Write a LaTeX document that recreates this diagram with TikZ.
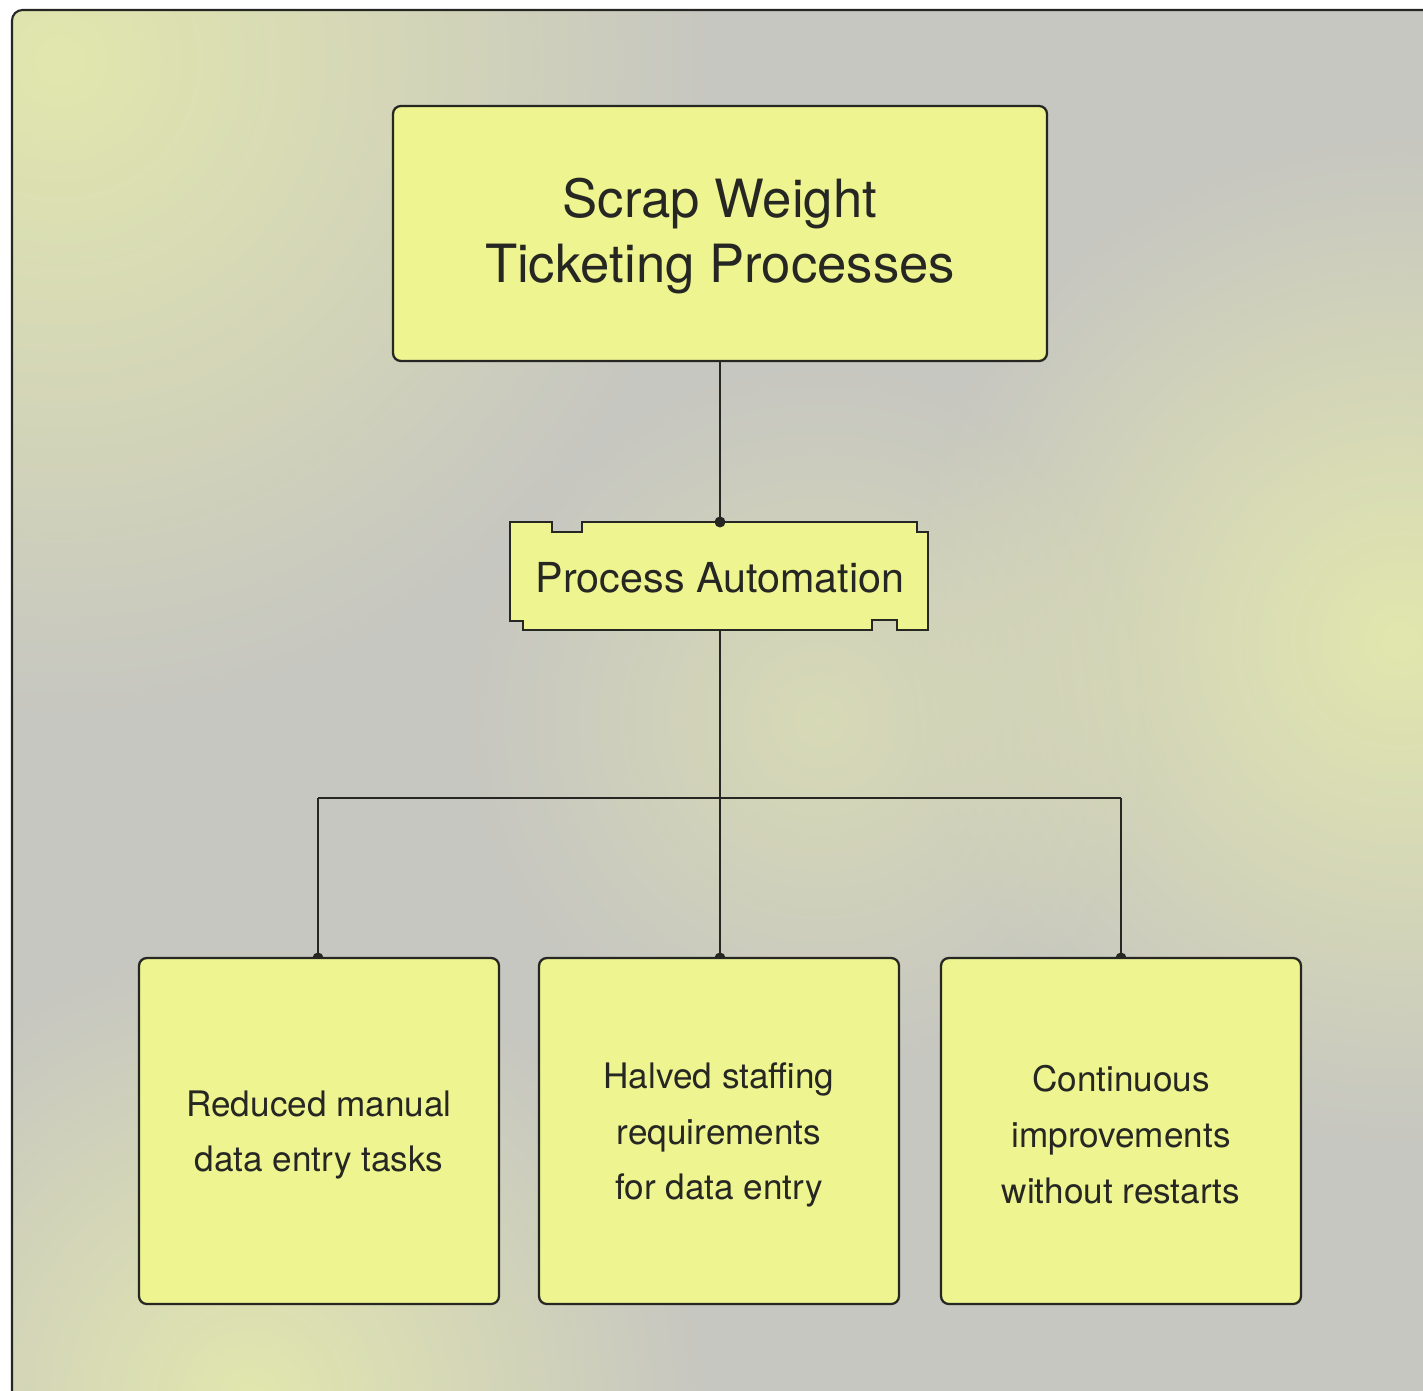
\documentclass[tikz,border=0pt]{standalone}
\usepackage{fontspec}
\setmainfont{TeX Gyre Heros}
\usetikzlibrary{fadings}
\definecolor{bggray}{HTML}{C7C7C1}
\definecolor{bgyel}{HTML}{E2E7AE}
\definecolor{boxfill}{HTML}{EEF48F}
\definecolor{ink}{HTML}{262622}
\tikzfading[name=softblob, inner color=transparent!0, outer color=transparent!100]
\tikzset{
  card/.style={draw=ink, line width=1.3pt, fill=boxfill, rounded corners=4.5pt},
  wire/.style={draw=ink, line width=1.1pt},
  joint/.style={fill=ink},
  ttl/.style={font=\fontsize{30}{37}\selectfont, text=ink, align=center},
  lbl/.style={font=\fontsize{20}{31.8}\selectfont, text=ink, align=center},
}
\begin{document}
\begin{tikzpicture}[x=0.02cm,y=-0.02cm]
\useasboundingbox (0,0) rectangle (1423,1391);
\fill[white] (0,0) rectangle (1423,1391);
% background frame
\begin{scope}
\clip[rounded corners=6pt] (12,10) rectangle (1450,1420);
\fill[bggray] (0,0) rectangle (1423,1391);
\fill[bgyel, path fading=softblob] (60,60) circle (13cm);
\fill[bgyel, path fading=softblob] (1400,640) circle (10cm);
\fill[bgyel, path fading=softblob] (250,1400) circle (9cm);
\fill[bgyel, path fading=softblob, fill opacity=0.6] (820,720) circle (7cm);
\end{scope}
\draw[ink, line width=1.2pt, rounded corners=6pt] (12,1450) -- (12,10) -- (1450,10);
% top card
\node[card, minimum width=654*0.02cm, minimum height=255*0.02cm] (top) at (720,233.5) {};
\node[ttl] (toptext) at (720,236) {Scrap Weight\\Ticketing Processes};
% process automation shape
\coordinate (patop) at (720,522);
\coordinate (pabot) at (720,630);
\draw[ink, line width=1.3pt, fill=boxfill] (510,522) -- (552,522) -- (552,532) -- (582,532) -- (582,522) -- (917,522) -- (917,532) -- (928,532) -- (928,630) -- (897,630) -- (897,620) -- (872,620) -- (872,630) -- (523,630) -- (523,621) -- (510,621) -- cycle;
\node[font=\fontsize{23.5}{28}\selectfont, text=ink] (pa) at (720,578) {Process Automation};
% connectors
\coordinate (bus) at (720,798);
\coordinate (busl) at (318,798);
\coordinate (busr) at (1121,798);
\coordinate (d1) at (318,958);
\coordinate (d2) at (720,958);
\coordinate (d3) at (1121,958);
\draw[wire] (top.south) -- (patop);
\draw[wire] (pabot) -- (d2);
\draw[wire] (busl) -- (busr);
\draw[wire] (busl) -- (d1);
\draw[wire] (busr) -- (d3);
\fill[joint] (patop) circle (5.5*0.02cm);
\foreach \d in {d1,d2,d3} \fill[joint] (\d) circle (5.5*0.02cm);
% bottom cards
\node[card, minimum width=360*0.02cm, minimum height=346*0.02cm] (b1) at (319,1131) {};
\node[card, minimum width=360*0.02cm, minimum height=346*0.02cm] (b2) at (719,1131) {};
\node[card, minimum width=360*0.02cm, minimum height=346*0.02cm] (b3) at (1121,1131) {};
\node[lbl] (t1) at (319,1135) {Reduced manual\\data entry tasks};
\node[lbl] (t2) at (719,1135) {Halved staffing\\requirements\\for data entry};
\node[lbl] (t3) at (1121,1135) {Continuous\\improvements\\without restarts};
\end{tikzpicture}
\end{document}
